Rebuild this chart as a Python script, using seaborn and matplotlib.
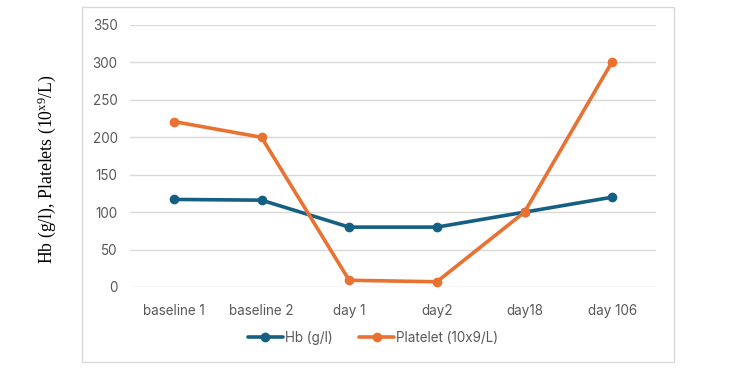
import matplotlib
matplotlib.use("Agg")
import matplotlib.pyplot as plt
import seaborn as sns
import pandas as pd
from matplotlib.patches import Rectangle

categories = ["baseline 1", "baseline 2", "day 1", "day2", "day18", "day 106"]
hb_values = [117, 116, 80, 80, 100, 120]
platelet_values = [221, 200, 9, 7, 100, 301]
series_names = ["Hb (g/l)", "Platelet (10x9/L)"]
y_ticks = [0, 50, 100, 150, 200, 250, 300, 350]

df = pd.DataFrame({
    "time": categories * 2,
    "value": hb_values + platelet_values,
    "series": [series_names[0]] * len(categories) + [series_names[1]] * len(categories),
})

sns.set_theme(style="white")
plt.rcParams["font.family"] = ["Inter", "DejaVu Sans"]
plt.rcParams["mathtext.fontset"] = "custom"
plt.rcParams["mathtext.rm"] = "Liberation Serif"
plt.rcParams["mathtext.it"] = "Liberation Serif:italic"

fig = plt.figure(figsize=(7.5, 3.7), dpi=100)
ax = fig.add_axes([130 / 750, 1 - 287 / 370, (656 - 130) / 750, (287 - 25) / 370])

palette = {series_names[0]: "#156082", series_names[1]: "#E97132"}
sns.lineplot(data=df, x="time", y="value", hue="series", palette=palette,
             marker="o", markersize=7, markeredgewidth=0, linewidth=2.6,
             sort=False, ax=ax, legend=True)

ax.set_ylim(0, 350)
ax.set_xlim(-0.5, len(categories) - 0.5)
ax.set_yticks(y_ticks)
ax.set_yticklabels([str(t) for t in y_ticks])
ax.yaxis.grid(True, color="#D9D9D9", linewidth=1.0)
ax.xaxis.grid(False)
ax.set_axisbelow(True)
for s in ax.spines.values():
    s.set_visible(False)
ax.tick_params(axis="both", length=0, labelsize=9.7, labelcolor="#595959")
ax.tick_params(axis="x", pad=12)
ax.tick_params(axis="y", pad=9)
ax.set_xlabel("")
ax.set_ylabel("")

fig.text(47 / 750, 1 - 169 / 370, r"Hb (g/l), Platelets (10$^{\mathrm{x9}}$/L)",
         rotation=90, ha="center", va="center", fontsize=12.8,
         family=["Liberation Serif", "DejaVu Serif"], color="#000000")

handles, labels = ax.get_legend_handles_labels()
ax.legend_.remove()
fig.legend(handles, labels, loc="center", bbox_to_anchor=(373 / 750, 1 - 338 / 370),
           ncol=2, frameon=False, fontsize=9.7, labelcolor="#595959",
           handlelength=2.6, handletextpad=0.15, columnspacing=2.0)

fig.patches.append(Rectangle((82 / 750, 1 - 362 / 370), (674 - 82) / 750, (362 - 7) / 370,
                             transform=fig.transFigure, fill=False,
                             edgecolor="#D9D9D9", linewidth=1.0))

fig.savefig("out.png", dpi=100)
